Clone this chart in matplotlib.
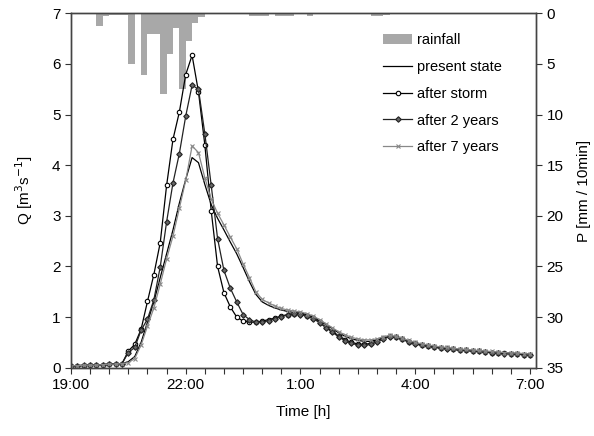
import matplotlib
matplotlib.use("Agg")
import matplotlib.pyplot as plt
from matplotlib.ticker import FixedLocator, MultipleLocator
import numpy as np

plt.rcParams["font.family"] = ["Liberation Sans", "DejaVu Sans"]

# --- data -------------------------------------------------------------
# discharge, one value every 10 min starting 19:00
q_start_h = 0.0          # hours after 19:00
q_step_h = 10 / 60

present_state = [
    0.04, 0.04, 0.05, 0.05, 0.05, 0.06, 0.07, 0.07, 0.08,
    0.12, 0.22, 0.50, 0.90, 1.30, 1.78, 2.25, 2.72, 3.25, 3.72, 4.15,
    4.05, 3.62, 3.22, 2.95, 2.72, 2.48, 2.25, 1.98, 1.70, 1.45,
    1.30, 1.23, 1.18, 1.14, 1.11, 1.09, 1.08, 1.05, 1.00, 0.93,
    0.85, 0.77, 0.69, 0.62, 0.57, 0.54, 0.52, 0.52, 0.55, 0.59,
    0.62, 0.60, 0.56, 0.52, 0.49, 0.46, 0.44, 0.42, 0.40, 0.39,
    0.37, 0.36, 0.35, 0.34, 0.33, 0.32, 0.31, 0.30, 0.29, 0.29,
    0.28, 0.27, 0.27]

after_storm = [
    0.04, 0.04, 0.04, 0.05, 0.05, 0.06, 0.07, 0.08, 0.08,
    0.33, 0.46, 0.76, 1.31, 1.84, 2.47, 3.60, 4.51, 5.05, 5.79, 6.17,
    5.45, 4.40, 3.10, 2.00, 1.48, 1.20, 1.00, 0.92, 0.90, 0.90,
    0.92, 0.95, 0.98, 1.02, 1.05, 1.07, 1.06, 1.03, 0.98, 0.90,
    0.80, 0.72, 0.63, 0.55, 0.50, 0.47, 0.46, 0.48, 0.53, 0.58,
    0.62, 0.60, 0.56, 0.51, 0.48, 0.45, 0.43, 0.41, 0.39, 0.38,
    0.36, 0.35, 0.34, 0.33, 0.32, 0.31, 0.30, 0.29, 0.29, 0.28,
    0.27, 0.26, 0.26]

after_2_years = [
    0.04, 0.04, 0.05, 0.05, 0.05, 0.06, 0.07, 0.07, 0.08,
    0.30, 0.40, 0.74, 0.96, 1.34, 1.99, 2.88, 3.65, 4.23, 4.97, 5.58,
    5.50, 4.62, 3.60, 2.55, 1.92, 1.57, 1.30, 1.05, 0.95, 0.90,
    0.90, 0.93, 0.97, 1.01, 1.04, 1.06, 1.05, 1.02, 0.97, 0.89,
    0.79, 0.70, 0.61, 0.53, 0.48, 0.45, 0.44, 0.46, 0.51, 0.57,
    0.61, 0.60, 0.56, 0.51, 0.47, 0.44, 0.42, 0.40, 0.39, 0.37,
    0.36, 0.35, 0.34, 0.33, 0.32, 0.31, 0.30, 0.29, 0.28, 0.28,
    0.27, 0.26, 0.25]

after_7_years = [
    0.04, 0.04, 0.05, 0.05, 0.05, 0.06, 0.07, 0.07, 0.08,
    0.10, 0.18, 0.45, 0.82, 1.18, 1.65, 2.15, 2.60, 3.15, 3.70, 4.38,
    4.25, 3.75, 3.33, 3.05, 2.82, 2.58, 2.35, 2.05, 1.78, 1.50,
    1.35, 1.28, 1.22, 1.17, 1.14, 1.12, 1.10, 1.07, 1.02, 0.95,
    0.87, 0.79, 0.71, 0.65, 0.60, 0.57, 0.55, 0.55, 0.57, 0.61,
    0.64, 0.62, 0.58, 0.54, 0.50, 0.47, 0.45, 0.43, 0.41, 0.40,
    0.38, 0.37, 0.36, 0.35, 0.34, 0.33, 0.32, 0.31, 0.30, 0.29,
    0.29, 0.28, 0.27]

# rainfall, mm per 10 min, bins starting 19:40
rain_start_h = 40 / 60
rain_step_h = 10 / 60
rainfall = [
    1.3, 0.3, 0.15, 0.15, 0.15, 5.0, 0.0, 6.1, 2.0, 2.0,
    8.0, 4.0, 1.5, 7.5, 2.7, 1.0, 0.4, 0.0, 0.0, 0.0,
    0.0, 0.0, 0.0, 0.0, 0.3, 0.3, 0.3, 0.1, 0.3, 0.3,
    0.3, 0.0, 0.0, 0.3, 0.0, 0.0, 0.0, 0.0, 0.0, 0.0,
    0.0, 0.0, 0.0, 0.3, 0.3, 0.2]

tick_hours = [0, 3, 6, 9, 12]
tick_labels = ["19:00", "22:00", "1:00", "4:00", "7:00"]
# ----------------------------------------------------------------------

t_q = q_start_h + q_step_h * np.arange(len(present_state))
t_r = rain_start_h + rain_step_h * np.arange(len(rainfall))

fig = plt.figure(figsize=(5.94, 4.36), dpi=100)
ax = fig.add_axes([71 / 594, 1 - 367.7 / 436, 465 / 594, 354.4 / 436])
ax2 = ax.twinx()

# rainfall hanging from the top (inverted right axis)
bars = ax2.bar(t_r, rainfall, width=rain_step_h, align="edge",
               color="#a8a8a8", edgecolor="none", label="rainfall")
ax2.set_ylim(35, 0)
ax2.set_ylabel("P [mm / 10min]", fontsize=11, labelpad=10)

# keep the hydrographs above the bars
ax.set_zorder(ax2.get_zorder() + 1)
ax.patch.set_visible(False)

l0, = ax.plot(t_q, present_state, color="black", lw=0.9, label="present state")
l1, = ax.plot(t_q, after_storm, color="black", lw=0.9, marker="o", ms=3.2,
              mfc="white", mec="black", mew=0.8, label="after storm")
l2, = ax.plot(t_q, after_2_years, color="#222222", lw=0.9, marker="D", ms=2.8,
              mfc="#666666", mec="#222222", mew=0.8, label="after 2 years")
l3, = ax.plot(t_q, after_7_years, color="#888888", lw=0.9, marker="x", ms=3.5,
              mew=0.8, label="after 7 years")

ax.set_xlim(0, 12.16)
ax.set_ylim(0, 7)
ax.xaxis.set_major_locator(FixedLocator(tick_hours))
ax.set_xticklabels(tick_labels)
ax.xaxis.set_minor_locator(MultipleLocator(0.5))
ax.yaxis.set_major_locator(MultipleLocator(1))
ax2.yaxis.set_major_locator(MultipleLocator(5))

ax.set_xlabel("Time [h]", fontsize=11, labelpad=9)
ax.set_ylabel("Q [m$^3$s$^{-1}$]", fontsize=11, labelpad=12)

for a in (ax, ax2):
    a.tick_params(which="both", direction="out", length=4, width=0.8,
                  labelsize=11, colors="#333333", labelcolor="black")
    for s in a.spines.values():
        s.set_color("#444444")
        s.set_linewidth(1.0)

ax.legend(handles=[bars, l0, l1, l2, l3], loc="upper left",
          bbox_to_anchor=(383 / 594, 1 - 33 / 436), bbox_transform=fig.transFigure,
          frameon=False, fontsize=10.5, handlelength=2.0, handletextpad=0.35,
          labelspacing=0.88, borderpad=0, borderaxespad=0)

fig.savefig("out.png", dpi=100)
